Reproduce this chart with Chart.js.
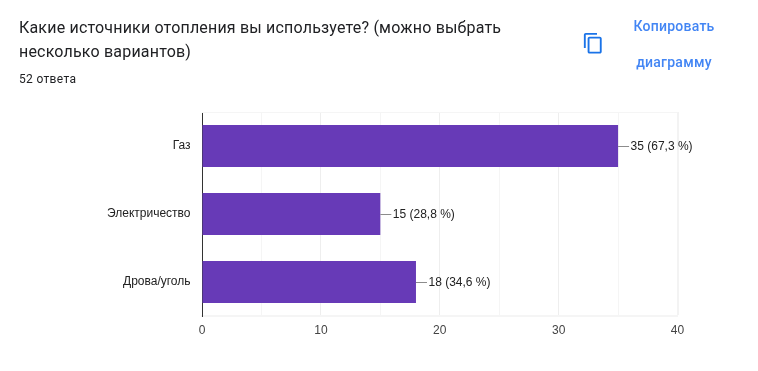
<!DOCTYPE html>
<html lang="ru">
<head>
<meta charset="utf-8">
<title>Источники отопления</title>
<script src="https://cdn.jsdelivr.net/npm/chart.js@4/dist/chart.umd.min.js"></script>
<style>
	html, body { margin: 0; padding: 0; background: #fff; }
	body { position: relative; width: 758px; height: 371px; overflow: hidden; font-family: Roboto, sans-serif; }
	#chartBox { position: absolute; left: 0; top: 0; width: 758px; height: 371px; }
	#title { position: absolute; left: 19px; top: 16px; width: 520px; font-size: 16px; line-height: 24px; color: #202124; letter-spacing: 0.19px; }
	#answers { position: absolute; left: 19px; top: 71px; font-size: 12px; line-height: 16px; color: #202124; letter-spacing: 0.33px; }
	#copyIcon { position: absolute; left: 582px; top: 32px; width: 22.5px; height: 22.5px; }
	.copyText { position: absolute; left: 614px; width: 120px; text-align: center; font-size: 14px; line-height: 20px; font-weight: 500; color: #4285f4; letter-spacing: 0.25px; }
</style>
</head>
<body>
<div id="chartBox"><canvas id="survey" width="758" height="371"></canvas></div>
<div id="title">Какие источники отопления вы используете? (можно выбрать несколько вариантов)</div>
<div id="answers">52 ответа</div>
<svg id="copyIcon" viewBox="0 0 24 24"><path fill="#1a73e8" d="M16 1H4c-1.1 0-2 .9-2 2v14h2V3h12V1zm3 4H8c-1.1 0-2 .9-2 2v14c0 1.1.9 2 2 2h11c1.1 0 2-.9 2-2V7c0-1.100-.9-2-2-2zm0 16H8V7h11v14z"/></svg>
<div class="copyText" style="top:16px">Копировать</div>
<div class="copyText" style="top:52px">диаграмму</div>
<script>
const categories = ['Газ', 'Электричество', 'Дрова/уголь'];
const counts = [35, 15, 18];
const shares = ['67,3', '28,8', '34,6'];
const tickLabels = [0, 10, 20, 30, 40];

// Draws the thin leader line and the "35 (67,3 %)" text next to each bar
const barNotes = {
	id: 'barNotes',
	beforeDatasetsDraw(chart) {
		// light line along the top of the plot
		let area = chart.chartArea;
		let ctx = chart.ctx;
		ctx.save();
		ctx.strokeStyle = '#f5f5f5';
		ctx.lineWidth = 1;
		ctx.beginPath();
		ctx.moveTo(area.left, area.top + 0.5);
		ctx.lineTo(area.right, area.top + 0.5);
		ctx.stroke();
		ctx.restore();
	},
	afterDatasetsDraw(chart) {
		let ctx = chart.ctx;
		let bars = chart.getDatasetMeta(0).data;
		ctx.save();
		ctx.font = '12px "Liberation Sans", Arial, sans-serif';
		ctx.textBaseline = 'middle';
		bars.forEach((bar, i) => {
			ctx.strokeStyle = '#8c8c8c';
			ctx.lineWidth = 1;
			ctx.beginPath();
			ctx.moveTo(bar.x, Math.round(bar.y) + 0.5);
			ctx.lineTo(bar.x + 11, Math.round(bar.y) + 0.5);
			ctx.stroke();
			ctx.fillStyle = '#222222';
			ctx.fillText(counts[i] + ' (' + shares[i] + ' %)', bar.x + 12.5, bar.y + 0.5);
		});
		ctx.restore();
	}
};

document.addEventListener('DOMContentLoaded', () => {
	let ctx = document.querySelector('#survey').getContext('2d');
	new Chart(ctx, {
		type: 'bar',
		data: {
			labels: categories,
			datasets: [{
				data: counts,
				backgroundColor: '#673ab7',
				categoryPercentage: 1,
				barPercentage: 42 / 68
			}]
		},
		plugins: [barNotes],
		options: {
			indexAxis: 'y',
			responsive: false,
			animation: false,
			layout: { padding: { top: 112, right: 80.5, bottom: 0, left: 0 } },
			plugins: { legend: { display: false }, tooltip: { enabled: false } },
			scales: {
				x: {
					min: 0,
					max: 40,
					afterFit: scale => { scale.height = 55; },
					border: { display: true, color: '#f5f5f5', width: 2 },
					grid: {
						drawTicks: false,
						lineWidth: c => c.tick.value === 40 ? 2 : 1,
						color: c => c.tick.value === 40 ? '#f3f3f3' : (c.tick.value % 10 === 0 ? '#eeeeee' : '#f5f5f5')
					},
					ticks: {
						stepSize: 5,
						maxRotation: 0,
						autoSkip: false,
						padding: 7,
						color: '#444444',
						font: { family: '"Liberation Sans", Arial, sans-serif', size: 12 },
						callback: v => tickLabels.includes(v) ? String(v) : ''
					}
				},
				y: {
					afterFit: scale => { scale.width = 202; },
					border: { color: '#333333', width: 1 },
					grid: { drawOnChartArea: false, drawTicks: false },
					ticks: {
						padding: 11.5,
						color: '#222222',
						font: { family: '"Liberation Sans", Arial, sans-serif', size: 12 }
					}
				}
			}
		}
	});
});
</script>
</body>
</html>
